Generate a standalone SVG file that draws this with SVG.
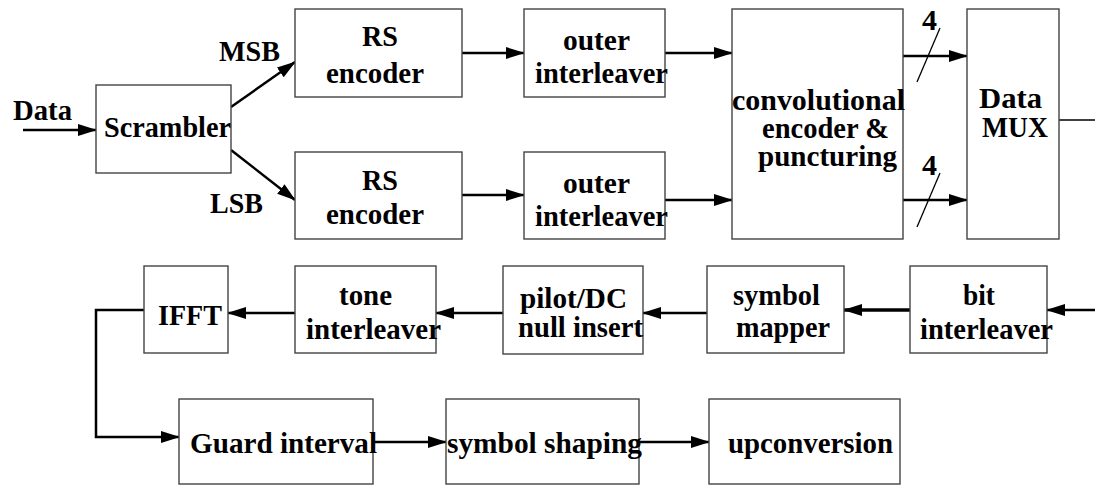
<svg xmlns="http://www.w3.org/2000/svg" width="1095" height="485" viewBox="0 0 1095 485">
<style>
.box{fill:#fff;stroke:#444;stroke-width:1.4}
.t{font-family:'Liberation Serif','DejaVu Serif','Noto Serif',Times,serif;font-weight:700;font-size:30px;fill:#000}
.c{fill:none;stroke:#000;stroke-width:2.5}
.thin{fill:none;stroke:#000;stroke-width:1.3}
</style>
<defs>
<marker id="ah" markerUnits="userSpaceOnUse" markerWidth="19" markerHeight="12" refX="18" refY="6" orient="auto">
<path d="M0,0 L19,6 L0,12 z" fill="#000"/>
</marker>
</defs>
<rect width="1095" height="485" fill="#fff"/>
<g id="connectors">
<line class="c" x1="23" y1="130" x2="96" y2="130" marker-end="url(#ah)"/>
<line class="c" x1="231" y1="107" x2="295" y2="62" marker-end="url(#ah)"/>
<line class="c" x1="231" y1="150" x2="295" y2="200" marker-end="url(#ah)"/>
<line class="c" x1="462" y1="53" x2="524" y2="53" marker-end="url(#ah)"/>
<line class="c" x1="462" y1="195" x2="524" y2="195" marker-end="url(#ah)"/>
<line class="c" x1="665" y1="53" x2="732" y2="53" marker-end="url(#ah)"/>
<line class="c" x1="665" y1="200" x2="732" y2="200" marker-end="url(#ah)"/>
<line class="c" x1="903" y1="56" x2="967" y2="56" marker-end="url(#ah)"/>
<line class="c" x1="903" y1="200" x2="967" y2="200" marker-end="url(#ah)"/>
<line class="thin" x1="917" y1="82" x2="940" y2="28"/>
<line class="thin" x1="917" y1="227" x2="940" y2="173"/>
<line class="thin" x1="1059" y1="120" x2="1095" y2="120"/>
<line class="c" x1="1095" y1="310" x2="1047" y2="310" marker-end="url(#ah)"/>
<line class="c" style="stroke-width:3.5" x1="910" y1="310" x2="844" y2="310" marker-end="url(#ah)"/>
<line class="c" x1="707" y1="313" x2="643" y2="313" marker-end="url(#ah)"/>
<line class="c" x1="503" y1="313" x2="436" y2="313" marker-end="url(#ah)"/>
<line class="c" x1="295" y1="313" x2="228" y2="313" marker-end="url(#ah)"/>
<polyline class="c" points="144,310 96,310 96,437 179,437" marker-end="url(#ah)"/>
<line class="c" x1="373" y1="442" x2="446" y2="442" marker-end="url(#ah)"/>
<line class="c" x1="639" y1="442" x2="709" y2="442" marker-end="url(#ah)"/>
</g>
<g id="labels">
<text class="t" x="13" y="120" textLength="59" lengthAdjust="spacingAndGlyphs">Data</text>
<text class="t" x="219" y="61" textLength="61" lengthAdjust="spacingAndGlyphs">MSB</text>
<text class="t" x="210" y="213" textLength="53" lengthAdjust="spacingAndGlyphs">LSB</text>
<text class="t" x="922" y="30" textLength="15" lengthAdjust="spacingAndGlyphs">4</text>
<text class="t" x="922" y="175" textLength="15" lengthAdjust="spacingAndGlyphs">4</text>
</g>
<g id="scrambler">
<rect class="box" x="96" y="85" width="135" height="88"/>
<text class="t" x="104" y="137" textLength="127" lengthAdjust="spacingAndGlyphs">Scrambler</text>
</g>
<g id="rs1">
<rect class="box" x="295" y="9" width="167" height="88"/>
<text class="t" x="362" y="46" textLength="36" lengthAdjust="spacingAndGlyphs">RS</text>
<text class="t" x="326" y="83" textLength="98" lengthAdjust="spacingAndGlyphs">encoder</text>
</g>
<g id="rs2">
<rect class="box" x="295" y="152" width="167" height="87"/>
<text class="t" x="362" y="190" textLength="36" lengthAdjust="spacingAndGlyphs">RS</text>
<text class="t" x="326" y="224" textLength="98" lengthAdjust="spacingAndGlyphs">encoder</text>
</g>
<g id="oi1">
<rect class="box" x="524" y="9" width="141" height="88"/>
<text class="t" x="563" y="50" textLength="67" lengthAdjust="spacingAndGlyphs">outer</text>
<text class="t" x="535" y="83" textLength="133" lengthAdjust="spacingAndGlyphs">interleaver</text>
</g>
<g id="oi2">
<rect class="box" x="524" y="152" width="141" height="87"/>
<text class="t" x="563" y="193" textLength="67" lengthAdjust="spacingAndGlyphs">outer</text>
<text class="t" x="535" y="226" textLength="133" lengthAdjust="spacingAndGlyphs">interleaver</text>
</g>
<g id="conv">
<rect class="box" x="732" y="9" width="171" height="230"/>
<text class="t" x="732" y="110" textLength="173" lengthAdjust="spacingAndGlyphs">convolutional</text>
<text class="t" x="762" y="138" textLength="127" lengthAdjust="spacingAndGlyphs">encoder &amp;</text>
<text class="t" x="758" y="166" textLength="139" lengthAdjust="spacingAndGlyphs">puncturing</text>
</g>
<g id="mux">
<rect class="box" x="967" y="9" width="92" height="230"/>
<text class="t" x="979" y="108" textLength="63" lengthAdjust="spacingAndGlyphs">Data</text>
<text class="t" x="982" y="137" textLength="66" lengthAdjust="spacingAndGlyphs">MUX</text>
</g>
<g id="ifft">
<rect class="box" x="144" y="266" width="84" height="87"/>
<text class="t" x="158" y="325" textLength="64" lengthAdjust="spacingAndGlyphs">IFFT</text>
</g>
<g id="tone">
<rect class="box" x="295" y="266" width="141" height="87"/>
<text class="t" x="339" y="305" textLength="53" lengthAdjust="spacingAndGlyphs">tone</text>
<text class="t" x="306" y="339" textLength="135" lengthAdjust="spacingAndGlyphs">interleaver</text>
</g>
<g id="pilot">
<rect class="box" x="503" y="266" width="140" height="88"/>
<text class="t" x="520" y="308" textLength="107" lengthAdjust="spacingAndGlyphs">pilot/DC</text>
<text class="t" x="518" y="337" textLength="125" lengthAdjust="spacingAndGlyphs">null insert</text>
</g>
<g id="mapper">
<rect class="box" x="707" y="266" width="137" height="87"/>
<text class="t" x="733" y="305" textLength="87" lengthAdjust="spacingAndGlyphs">symbol</text>
<text class="t" x="736" y="337" textLength="94" lengthAdjust="spacingAndGlyphs">mapper</text>
</g>
<g id="bit">
<rect class="box" x="910" y="266" width="137" height="87"/>
<text class="t" x="963" y="305" textLength="32" lengthAdjust="spacingAndGlyphs">bit</text>
<text class="t" x="920" y="339" textLength="133" lengthAdjust="spacingAndGlyphs">interleaver</text>
</g>
<g id="guard">
<rect class="box" x="179" y="399" width="194" height="85"/>
<text class="t" x="190" y="453" textLength="187" lengthAdjust="spacingAndGlyphs">Guard interval</text>
</g>
<g id="shaping">
<rect class="box" x="446" y="399" width="193" height="85"/>
<text class="t" x="447" y="453" textLength="195" lengthAdjust="spacingAndGlyphs">symbol shaping</text>
</g>
<g id="upconv">
<rect class="box" x="709" y="399" width="191" height="85"/>
<text class="t" x="728" y="453" textLength="165" lengthAdjust="spacingAndGlyphs">upconversion</text>
</g>
</svg>
